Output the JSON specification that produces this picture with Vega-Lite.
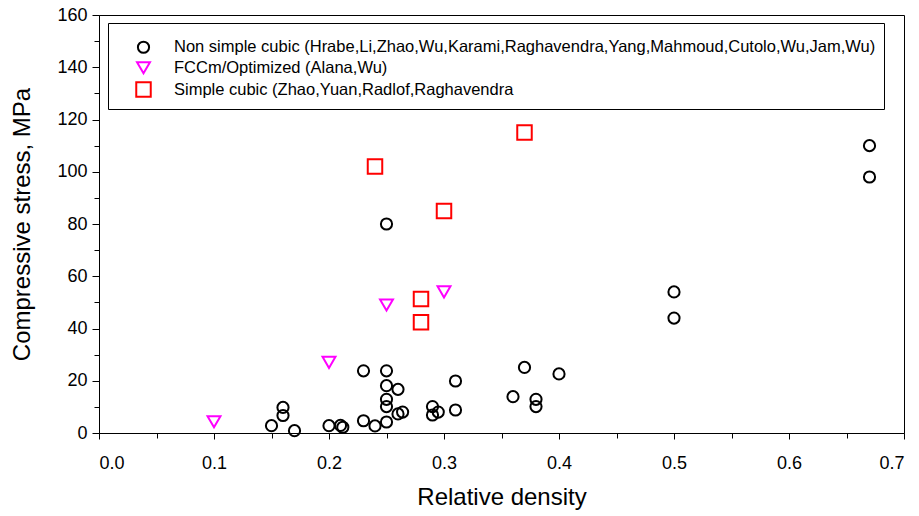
{
  "$schema": "https://vega.github.io/schema/vega-lite/v6.json",
  "width": 805,
  "height": 418,
  "autosize": {"type": "none"},
  "padding": {"left": 99, "top": 15, "right": 15, "bottom": 83},
  "background": "white",
  "config": {
    "font": "Liberation Sans",
    "view": {"stroke": "black", "strokeWidth": 1},
    "axis": {
      "grid": false,
      "domainColor": "black",
      "tickColor": "black",
      "labelColor": "black",
      "titleColor": "black",
      "labelFont": "Liberation Sans",
      "titleFont": "Liberation Sans",
      "titleFontWeight": "normal"
    }
  },
  "data": {
    "values": [
      {"series": "Non simple cubic", "density": 0.15, "stress": 2.8},
      {"series": "Non simple cubic", "density": 0.16, "stress": 9.8},
      {"series": "Non simple cubic", "density": 0.16, "stress": 6.7},
      {"series": "Non simple cubic", "density": 0.17, "stress": 0.9},
      {"series": "Non simple cubic", "density": 0.20, "stress": 2.8},
      {"series": "Non simple cubic", "density": 0.21, "stress": 2.9},
      {"series": "Non simple cubic", "density": 0.212, "stress": 2.2},
      {"series": "Non simple cubic", "density": 0.23, "stress": 23.8},
      {"series": "Non simple cubic", "density": 0.23, "stress": 4.7},
      {"series": "Non simple cubic", "density": 0.24, "stress": 2.7},
      {"series": "Non simple cubic", "density": 0.25, "stress": 23.8},
      {"series": "Non simple cubic", "density": 0.25, "stress": 18.1},
      {"series": "Non simple cubic", "density": 0.25, "stress": 12.9},
      {"series": "Non simple cubic", "density": 0.25, "stress": 10.1},
      {"series": "Non simple cubic", "density": 0.25, "stress": 4.2},
      {"series": "Non simple cubic", "density": 0.25, "stress": 80},
      {"series": "Non simple cubic", "density": 0.26, "stress": 16.7},
      {"series": "Non simple cubic", "density": 0.26, "stress": 7.3},
      {"series": "Non simple cubic", "density": 0.264, "stress": 8.0},
      {"series": "Non simple cubic", "density": 0.29, "stress": 10.1},
      {"series": "Non simple cubic", "density": 0.29, "stress": 6.9},
      {"series": "Non simple cubic", "density": 0.295, "stress": 8.0},
      {"series": "Non simple cubic", "density": 0.31, "stress": 19.9},
      {"series": "Non simple cubic", "density": 0.31, "stress": 8.8},
      {"series": "Non simple cubic", "density": 0.36, "stress": 13.9},
      {"series": "Non simple cubic", "density": 0.37, "stress": 25.1},
      {"series": "Non simple cubic", "density": 0.38, "stress": 12.9},
      {"series": "Non simple cubic", "density": 0.38, "stress": 10.1},
      {"series": "Non simple cubic", "density": 0.40, "stress": 22.6},
      {"series": "Non simple cubic", "density": 0.50, "stress": 54},
      {"series": "Non simple cubic", "density": 0.50, "stress": 44},
      {"series": "Non simple cubic", "density": 0.67, "stress": 110},
      {"series": "Non simple cubic", "density": 0.67, "stress": 98},
      {"series": "FCCm/Optimized", "density": 0.10, "stress": 4.3},
      {"series": "FCCm/Optimized", "density": 0.20, "stress": 27},
      {"series": "FCCm/Optimized", "density": 0.25, "stress": 49},
      {"series": "FCCm/Optimized", "density": 0.30, "stress": 54},
      {"series": "Simple cubic", "density": 0.24, "stress": 102},
      {"series": "Simple cubic", "density": 0.30, "stress": 85},
      {"series": "Simple cubic", "density": 0.28, "stress": 51.3},
      {"series": "Simple cubic", "density": 0.28, "stress": 42.4},
      {"series": "Simple cubic", "density": 0.37, "stress": 115}
    ]
  },
  "resolve": {"axis": {"x": "independent", "y": "independent"}},
  "layer": [
    {
      "mark": {"type": "point", "opacity": 0},
      "encoding": {
        "x": {
          "field": "density", "type": "quantitative",
          "scale": {"domain": [0, 0.7], "nice": false, "zero": false},
          "axis": {"orient": "bottom", "values": [0.05, 0.15, 0.25, 0.35, 0.45, 0.55, 0.65], "labels": false, "domain": false, "tickSize": 5, "title": null}
        },
        "y": {
          "field": "stress", "type": "quantitative",
          "scale": {"domain": [0, 160], "nice": false},
          "axis": {"orient": "left", "values": [10, 30, 50, 70, 90, 110, 130, 150], "labels": false, "domain": false, "tickSize": 5, "title": null}
        }
      }
    },
    {
      "mark": {"type": "point", "filled": false, "strokeWidth": 2, "opacity": 1},
      "encoding": {
        "x": {
          "field": "density", "type": "quantitative",
          "scale": {"domain": [0, 0.7], "nice": false, "zero": false},
          "axis": {
            "orient": "bottom",
            "values": [0, 0.1, 0.2, 0.3, 0.4, 0.5, 0.6, 0.7],
            "format": ".1f",
            "tickSize": 6,
            "labelFontSize": 18,
            "labelPadding": 15,
            "title": "Relative density",
            "titleFontSize": 24,
            "titlePadding": 13
          }
        },
        "y": {
          "field": "stress", "type": "quantitative",
          "scale": {"domain": [0, 160], "nice": false},
          "axis": {
            "orient": "left",
            "values": [0, 20, 40, 60, 80, 100, 120, 140, 160],
            "tickSize": 7,
            "labelFontSize": 18,
            "labelPadding": 5,
            "title": "Compressive stress, MPa",
            "titleFontSize": 24,
            "titlePadding": 22
          }
        },
        "color": {
          "field": "series", "type": "nominal",
          "scale": {"domain": ["Non simple cubic", "FCCm/Optimized", "Simple cubic"], "range": ["#000000", "#ff00ff", "#ff0000"]},
          "legend": {
            "orient": "none",
            "legendX": 9,
            "legendY": 8,
            "title": " ",
            "titleFontSize": 6,
            "titlePadding": 2,
            "strokeColor": "black",
            "fillColor": "white",
            "padding": 8,
            "symbolOffset": 19,
            "labelOffset": 22,
            "rowPadding": 0.5,
            "labelFontSize": 16.5,
            "labelLimit": 900,
            "symbolStrokeWidth": 2,
            "labelExpr": "datum.value == 'Non simple cubic' ? 'Non simple cubic (Hrabe,Li,Zhao,Wu,Karami,Raghavendra,Yang,Mahmoud,Cutolo,Wu,Jam,Wu)' : datum.value == 'FCCm/Optimized' ? 'FCCm/Optimized (Alana,Wu)' : 'Simple cubic (Zhao,Yuan,Radlof,Raghavendra'",
            "encode": {
              "labels": {"update": {"fill": {"signal": "datum.value == 'FCCm/Optimized' ? '#ff00ff' : datum.value == 'Simple cubic' ? '#ff0000' : '#000000'"}}}
            }
          }
        },
        "shape": {
          "field": "series", "type": "nominal",
          "scale": {"domain": ["Non simple cubic", "FCCm/Optimized", "Simple cubic"], "range": ["circle", "triangle-down", "square"]}
        },
        "size": {
          "field": "series", "type": "nominal",
          "scale": {"domain": ["Non simple cubic", "FCCm/Optimized", "Simple cubic"], "range": [125, 210, 140]}
        }
      }
    }
  ]
}
